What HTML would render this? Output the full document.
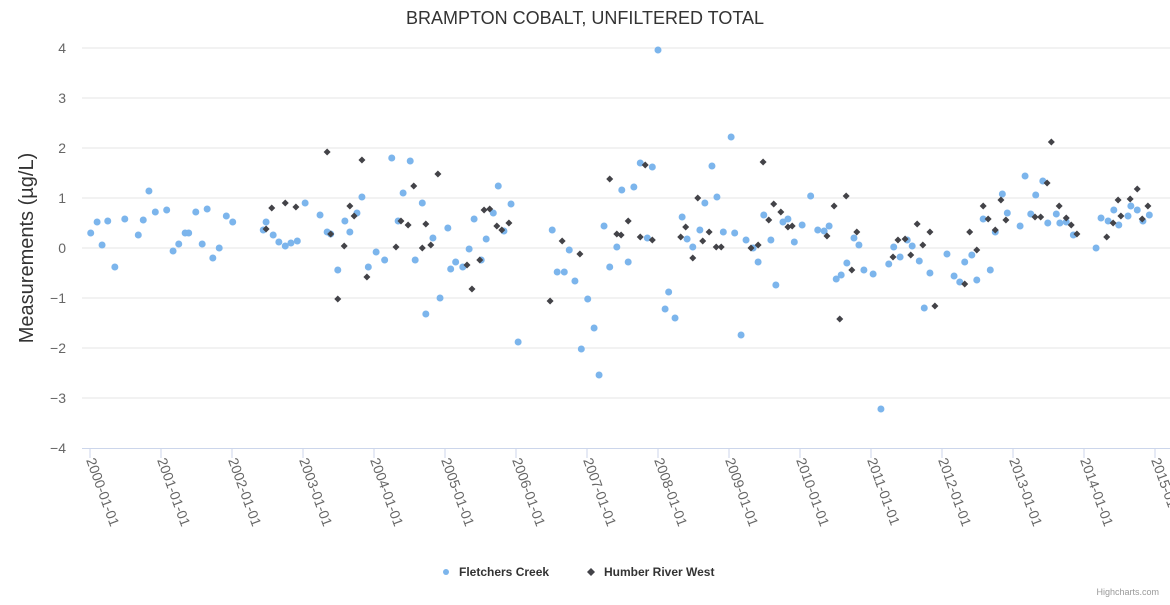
<!DOCTYPE html>
<html><head><meta charset="utf-8"><style>
body{margin:0;background:#fff;font-family:"Liberation Sans",sans-serif}
svg text{font-family:"Liberation Sans",sans-serif}
</style></head><body>
<svg id="c" width="1170" height="600" xmlns="http://www.w3.org/2000/svg">
<rect width="1170" height="600" fill="#fff"/>
<text x="585" y="24" text-anchor="middle" font-size="18" fill="#333">BRAMPTON COBALT, UNFILTERED TOTAL</text>
<text transform="translate(33,248) rotate(-90)" text-anchor="middle" font-size="20" fill="#333">Measurements (µg/L)</text>
<g id="grid"></g><g id="xax"></g><g id="marks"></g>
<g>
<g><circle cx="446" cy="572" r="3" fill="#7cb5ec"/><text x="459" y="576" font-size="12" font-weight="bold" fill="#333">Fletchers Creek</text></g>
<g><path d="M591 568 L595 572 L591 576 L587 572Z" fill="#434348"/><text x="604" y="576" font-size="12" font-weight="bold" fill="#333">Humber River West</text></g>
</g>
<text x="1159" y="595" text-anchor="end" font-size="9" fill="#999">Highcharts.com</text>
</svg>
<script>
const yTicks=[-4,-3,-2,-1,0,1,2,3,4];
const xTickYears=[2000,2001,2002,2003,2004,2005,2006,2007,2008,2009,2010,2011,2012,2013,2014,2015];
const fcX=[.01,.10,.17,.25,.35,.49,.68,.75,.83,.92,1.08,1.17,1.25,1.34,1.39,1.49,1.58,1.65,1.73,1.82,1.92,2.01,2.44,2.48,2.58,2.66,2.75,2.83,2.92,3.03,3.24,3.34,3.39,3.49,3.59,3.66,3.76,3.83,3.92,4.03,4.15,4.25,4.34,4.41,4.51,4.58,4.68,4.73,4.83,4.93,5.04,5.08,5.15,5.25,5.34,5.41,5.51,5.58,5.68,5.75,5.83,5.93,6.03,6.51,6.58,6.68,6.75,6.83,6.92,7.01,7.10,7.17,7.24,7.32,7.42,7.49,7.58,7.66,7.75,7.85,7.92,8.00,8.10,8.15,8.24,8.34,8.41,8.49,8.59,8.66,8.76,8.83,8.92,9.03,9.08,9.17,9.24,9.34,9.41,9.49,9.59,9.66,9.76,9.83,9.92,10.03,10.15,10.25,10.34,10.41,10.51,10.58,10.66,10.76,10.83,10.90,11.03,11.14,11.25,11.32,11.41,11.51,11.58,11.68,11.75,11.83,12.07,12.17,12.25,12.32,12.42,12.49,12.58,12.68,12.75,12.85,12.92,13.10,13.17,13.25,13.32,13.42,13.49,13.61,13.66,13.75,13.85,14.17,14.24,14.34,14.42,14.49,14.62,14.66,14.75,14.83,14.92];
const fcY=[.30,.52,.06,.54,-.38,.58,.26,.56,1.14,.72,.76,-.06,.08,.30,.30,.72,.08,.78,-.2,0,.64,.52,.36,.52,.26,.12,.04,.10,.14,.90,.66,.32,.28,-.44,.54,.32,.70,1.02,-.38,-.08,-.24,1.80,.54,1.10,1.74,-.24,.90,-1.32,.20,-1.0,.40,-.42,-.28,-.38,-.02,.58,-.24,.18,.70,1.24,.34,.88,-1.88,.36,-.48,-.48,-.04,-.66,-2.02,-1.02,-1.60,-2.54,.44,-.38,.02,1.16,-.28,1.22,1.70,.20,1.62,3.96,-1.22,-.88,-1.40,.62,.18,.02,.36,.90,1.64,1.02,.32,2.22,.30,-1.74,.16,0,-.28,.66,.16,-.74,.52,.58,.12,.46,1.04,.36,.34,.44,-.62,-.54,-.30,.20,.06,-.44,-.52,-3.22,-.32,.02,-.18,.16,.04,-.26,-1.20,-.50,-.12,-.56,-.68,-.28,-.14,-.64,.58,-.44,.32,1.08,.70,.44,1.44,.68,1.06,1.34,.50,.68,.50,.52,.26,0,.60,.54,.76,.46,.64,.84,.76,.54,.66];
const hrX=[2.48,2.56,2.75,2.90,3.34,3.39,3.49,3.58,3.66,3.72,3.83,3.90,4.31,4.38,4.48,4.56,4.68,4.73,4.80,4.90,5.31,5.38,5.49,5.55,5.63,5.73,5.80,5.90,6.48,6.65,6.90,7.32,7.42,7.48,7.58,7.75,7.82,7.92,8.32,8.39,8.49,8.56,8.63,8.72,8.82,8.89,9.31,9.41,9.48,9.56,9.63,9.73,9.83,9.89,10.38,10.48,10.56,10.65,10.73,10.80,11.31,11.38,11.48,11.56,11.65,11.73,11.83,11.90,12.32,12.39,12.49,12.58,12.65,12.75,12.83,12.90,13.31,13.39,13.48,13.54,13.65,13.75,13.82,13.90,14.32,14.41,14.48,14.52,14.65,14.75,14.82,14.90];
const hrY=[.38,.80,.90,.82,1.92,.28,-1.02,.04,.84,.64,1.76,-.58,.02,.54,.46,1.24,0,.48,.06,1.48,-.34,-.82,-.24,.76,.78,.44,.36,.50,-1.06,.14,-.12,1.38,.28,.26,.54,.22,1.66,.16,.22,.42,-.20,1.00,.14,.32,.02,.02,0,.06,1.72,.56,.88,.72,.42,.44,.24,.84,-1.42,1.04,-.44,.32,-.18,.16,.18,-.14,.48,.06,.32,-1.16,-.72,.32,-.04,.84,.58,.36,.96,.56,.62,.62,1.30,2.12,.84,.60,.46,.28,.22,.50,.96,.64,.98,1.18,.58,.84];
const NS='http://www.w3.org/2000/svg';
const X=v=>90+v*71, Y=v=>248-v*50;
function mk(t,a,p){const e=document.createElementNS(NS,t);for(const k in a)e.setAttribute(k,a[k]);p.appendChild(e);return e;}
const grid=document.getElementById('grid'),xax=document.getElementById('xax'),marks=document.getElementById('marks');
yTicks.forEach(v=>{
 if(v>-4){const l=mk('line',{x1:82,x2:1170,y1:Y(v),y2:Y(v),stroke:'#e6e6e6'},grid);
 
 }
 const t=mk('text',{x:66,y:Y(v)+5,'text-anchor':'end','font-size':14,fill:'#666'},grid);t.textContent=v<0?'−'+(-v):v;
 
 
});
const ax=mk('line',{x1:82,x2:1170,y1:448.5,y2:448.5,stroke:'#ccd6eb'},xax);


xTickYears.forEach(yr=>{
 const x=X(yr-2000);
 mk('line',{x1:x,x2:x,y1:448,y2:458,stroke:'#ccd6eb'},xax);
 const t=mk('text',{transform:`translate(${x-4},${460}) rotate(70)`,'font-size':14,fill:'#666'},xax);
 t.textContent=yr+'-01-01';
 
 
});
fcX.forEach((v,i)=>{
 const c=mk('circle',{cx:X(v),cy:Y(fcY[i]),r:3.5,fill:'#7cb5ec'},marks);
 
 
});
hrX.forEach((v,i)=>{
 const x=X(v),y=Y(hrY[i]);
 const p=mk('path',{d:`M${x} ${y-3.5}L${x+3.5} ${y}L${x} ${y+3.5}L${x-3.5} ${y}Z`,fill:'#434348'},marks);
 
 
});
</script>
</body></html>
